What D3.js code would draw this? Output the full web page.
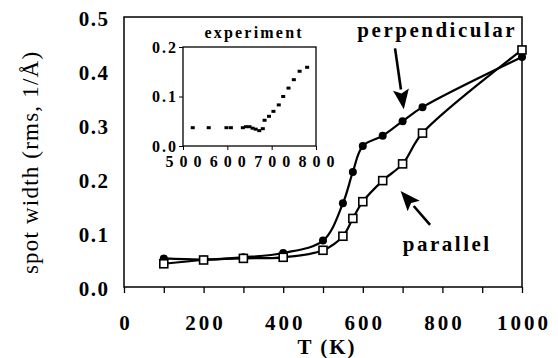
<!DOCTYPE html>
<html>
<head>
<meta charset="utf-8">
<script src="https://cdn.jsdelivr.net/npm/d3@7"></script>
<style>
  body { margin: 0; background: #fff; }
  svg { display: block; }
</style>
</head>
<body>
<svg id="chart" width="558" height="358"></svg>
<script>
// simulated spot width vs temperature
const temps = [100, 200, 300, 400, 500, 550, 575, 600, 650, 700, 750, 1000];
const perpendicular = [0.053, 0.051, 0.055, 0.063, 0.086, 0.155, 0.213, 0.261, 0.280, 0.307, 0.333, 0.426];
const parallel = [0.043, 0.050, 0.053, 0.055, 0.068, 0.094, 0.127, 0.158, 0.197, 0.228, 0.285, 0.439];

// inset: experiment
const expTemps = [522, 558, 598, 608, 635, 642, 650, 657, 664, 672, 680, 684, 694, 704, 716, 726, 738, 750, 763, 780];
const expWidth = [0.037, 0.037, 0.037, 0.037, 0.037, 0.039, 0.039, 0.036, 0.034, 0.031, 0.035, 0.052, 0.060, 0.070, 0.083, 0.100, 0.117, 0.134, 0.151, 0.159];

const xTicks = [0, 100, 200, 300, 400, 500, 600, 700, 800, 900, 1000];
const yTicks = [0, 0.1, 0.2, 0.3, 0.4, 0.5];
const insetXTicks = [500, 600, 700, 800];
const insetYTicks = [0, 0.1, 0.2];

const FONT = 'Liberation Serif';

// spread the glyphs a little, like the scanned original
function spread(sel, gap) {
    sel.each(function () {
        const t = d3.select(this);
        const n = t.text().length;
        t.attr('dx', d3.range(n).map(i => (i === 0 ? 0 : gap)).join(' '));
    });
}

const svg = d3.select('#chart');
svg.append('rect').attr('width', 558).attr('height', 358).attr('fill', '#fff');

const x = d3.scaleLinear().domain([0, 1000]).range([124, 522]);
const y = d3.scaleLinear().domain([0, 0.5]).range([287, 17]);

// frame
svg.append('rect')
    .attr('x', x(0)).attr('y', y(0.5))
    .attr('width', x(1000) - x(0)).attr('height', y(0) - y(0.5))
    .attr('fill', 'none').attr('stroke', '#000').attr('stroke-width', 1.5);

// x axis
const gx = svg.append('g')
    .attr('transform', `translate(0, ${y(0)})`)
    .call(d3.axisBottom(x).tickValues(xTicks).tickSize(6).tickPadding(22)
        .tickFormat(d => d % 200 === 0 ? d : ''));
gx.attr('font-family', FONT);
gx.select('.domain').remove();
gx.selectAll('line').attr('stroke-width', 1.3);
gx.selectAll('text')
    .attr('font-family', FONT)
    .attr('font-size', 21).attr('font-weight', 'bold')
    .call(spread, 3);

// y axis
const gy = svg.append('g')
    .attr('transform', `translate(${x(0)}, 0)`)
    .call(d3.axisLeft(y).tickValues(yTicks).tickSize(0).tickPadding(16).tickFormat(d3.format('.1f')));
gy.attr('font-family', FONT);
gy.select('.domain').remove();
gy.selectAll('text')
    .attr('font-family', FONT)
    .attr('font-size', 21).attr('font-weight', 'bold')
    .attr('y', 2)
    .call(spread, 1.5);

// axis titles
svg.append('text')
    .attr('x', 326).attr('y', 354)
    .attr('text-anchor', 'middle')
    .attr('font-family', FONT)
    .attr('font-size', 21).attr('font-weight', 'bold')
    .text('T (K)')
    .call(spread, 2);

svg.append('text')
    .attr('transform', `translate(38, 163) rotate(-90)`)
    .attr('text-anchor', 'middle')
    .attr('font-family', FONT)
    .attr('font-size', 23)
    .text('spot width (rms, 1/Å)')
    .call(spread, 1.2);

// curves
const line = d3.line()
    .x(d => x(d[0]))
    .y(d => y(d[1]))
    .curve(d3.curveCatmullRom.alpha(0.5));

const perpPts = temps.map((t, i) => [t, perpendicular[i]]);
const parPts = temps.map((t, i) => [t, parallel[i]]);

svg.append('path').attr('d', line(parPts))
    .attr('fill', 'none').attr('stroke', '#000').attr('stroke-width', 2.2);
svg.append('path').attr('d', line(perpPts))
    .attr('fill', 'none').attr('stroke', '#000').attr('stroke-width', 2.2);

svg.append('g').selectAll('circle')
    .data(perpPts)
    .enter()
    .append('circle')
    .attr('cx', d => x(d[0]))
    .attr('cy', d => y(d[1]))
    .attr('r', 4)
    .attr('fill', '#000');

svg.append('g').selectAll('rect')
    .data(parPts)
    .enter()
    .append('rect')
    .attr('x', d => x(d[0]) - 4)
    .attr('y', d => y(d[1]) - 4)
    .attr('width', 8).attr('height', 8)
    .attr('fill', '#fff').attr('stroke', '#000').attr('stroke-width', 1.6);

// labels and arrows
function arrow(from, to, headLen, headHalf) {
    const x1 = x(from[0]), y1 = y(from[1]), x2 = x(to[0]), y2 = y(to[1]);
    const ang = Math.atan2(y2 - y1, x2 - x1);
    const bx = x2 - headLen * Math.cos(ang), by = y2 - headLen * Math.sin(ang);
    svg.append('line')
        .attr('x1', x1).attr('y1', y1).attr('x2', bx).attr('y2', by)
        .attr('stroke', '#000').attr('stroke-width', 2.6);
    const px = -Math.sin(ang) * headHalf, py = Math.cos(ang) * headHalf;
    svg.append('path')
        .attr('d', `M${x2},${y2}L${bx + px},${by + py}L${bx + headLen * 0.2 * Math.cos(ang)},${by + headLen * 0.2 * Math.sin(ang)}L${bx - px},${by - py}Z`)
        .attr('fill', '#000');
}

svg.append('text')
    .attr('x', 436).attr('y', 37)
    .attr('text-anchor', 'middle')
    .attr('font-family', FONT)
    .attr('font-size', 21).attr('font-weight', 'bold')
    .text('perpendicular')
    .call(spread, 2.5);
arrow([681, 0.442], [703, 0.329], 20, 8);

svg.append('text')
    .attr('x', 446).attr('y', 251)
    .attr('text-anchor', 'middle')
    .attr('font-family', FONT)
    .attr('font-size', 21).attr('font-weight', 'bold')
    .text('parallel')
    .call(spread, 2.5);
arrow([769, 0.115], [695, 0.178], 20, 8);

// inset
const xi = d3.scaleLinear().domain([500, 800]).range([183, 316]);
const yi = d3.scaleLinear().domain([0, 0.2]).range([146, 47]);

svg.append('rect')
    .attr('x', xi(500)).attr('y', yi(0.2))
    .attr('width', xi(800) - xi(500)).attr('height', yi(0) - yi(0.2))
    .attr('fill', '#fff').attr('stroke', '#000').attr('stroke-width', 1.3);

const gix = svg.append('g')
    .attr('transform', `translate(0, ${yi(0)})`)
    .call(d3.axisBottom(xi).tickValues(insetXTicks).tickSize(4).tickPadding(6));
gix.attr('font-family', FONT);
gix.select('.domain').remove();
gix.selectAll('text')
    .attr('font-family', FONT)
    .attr('font-size', 16).attr('font-weight', 'bold')
    .call(spread, 6);

const giy = svg.append('g')
    .attr('transform', `translate(${xi(500)}, 0)`)
    .call(d3.axisLeft(yi).tickValues(insetYTicks).tickSize(4).tickPadding(3).tickFormat(d3.format('.1f')));
giy.attr('font-family', FONT);
giy.select('.domain').remove();
giy.selectAll('text')
    .attr('font-family', FONT)
    .attr('font-size', 16).attr('font-weight', 'bold')
    .call(spread, 2);

svg.append('text')
    .attr('x', 253).attr('y', 38)
    .attr('text-anchor', 'middle')
    .attr('font-family', FONT)
    .attr('font-size', 16).attr('font-weight', 'bold')
    .text('experiment')
    .call(spread, 2.2);

svg.append('g').selectAll('rect')
    .data(expTemps.map((t, i) => [t, expWidth[i]]))
    .enter()
    .append('rect')
    .attr('x', d => xi(d[0]) - 2)
    .attr('y', d => yi(d[1]) - 1.5)
    .attr('width', 4).attr('height', 3)
    .attr('fill', '#000');
</script>
</body>
</html>
